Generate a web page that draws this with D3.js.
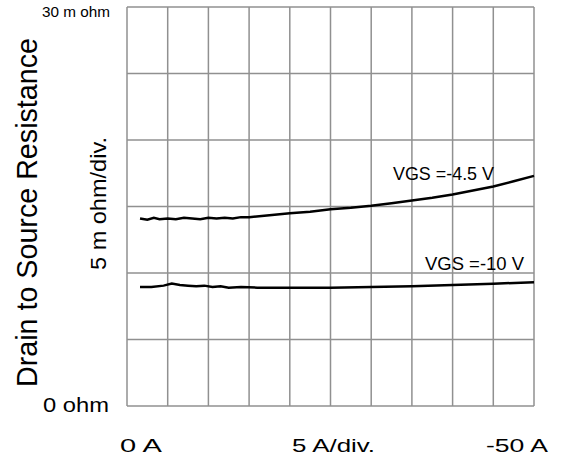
<!DOCTYPE html>
<html>
<head>
<meta charset="utf-8">
<script src="https://cdn.jsdelivr.net/npm/d3@7"></script>
<style>
  body { margin: 0; background: #fff; }
  text { font-family: "Liberation Sans", Arial, sans-serif; fill: #000; }
</style>
</head>
<body>
<div id="chart"></div>
<script>
// drain current magnitude (A) and resistance (m ohm)
var currentA45 = [1.6, 2.5, 3.3, 4.0, 5, 6, 7, 8, 9, 10, 11, 12, 13, 14, 15, 17.5, 20, 22.5, 25, 27.5, 30, 32.5, 35, 37.5, 40, 42.5, 45, 47.5, 50];
var rdsA45 = [14.1, 14.0, 14.15, 14.05, 14.1, 14.05, 14.15, 14.1, 14.05, 14.15, 14.1, 14.15, 14.1, 14.2, 14.2, 14.35, 14.5, 14.6, 14.8, 14.9, 15.05, 15.25, 15.45, 15.65, 15.9, 16.2, 16.5, 16.9, 17.3];
var current10 = [1.6, 3, 4.5, 5.5, 6.5, 7.5, 8.5, 9.5, 10.5, 11.5, 12.5, 14, 16, 18, 20, 25, 30, 35, 40, 45, 50];
var rds10 = [8.95, 8.95, 9.05, 9.2, 9.1, 9.05, 9.0, 9.05, 8.95, 9.0, 8.9, 8.95, 8.9, 8.9, 8.9, 8.9, 8.95, 9.0, 9.1, 9.2, 9.3];
var xTicks = d3.range(0, 55, 5);
var yTicks = d3.range(0, 35, 5);

function chart() {
  var w = 564;
  var h = 459;

  var svg = d3.select("#chart")
              .append("svg")
              .attr("width", w)
              .attr("height", h);

  var x = d3.scaleLinear().domain([0, 50]).range([127, 534]);
  var y = d3.scaleLinear().domain([0, 30]).range([406, 7]);

  // grid
  svg.selectAll("line.v")
     .data(xTicks)
     .enter()
     .append("line")
     .attr("x1", function(d) { return x(d); })
     .attr("x2", function(d) { return x(d); })
     .attr("y1", y(0))
     .attr("y2", y(30))
     .attr("stroke", "#909090")
     .attr("stroke-width", 1.5);

  svg.selectAll("line.h")
     .data(yTicks)
     .enter()
     .append("line")
     .attr("y1", function(d) { return y(d); })
     .attr("y2", function(d) { return y(d); })
     .attr("x1", x(0))
     .attr("x2", x(50))
     .attr("stroke", "#909090")
     .attr("stroke-width", 1.5);

  var line = d3.line()
               .x(function(d) { return x(d[0]); })
               .y(function(d) { return y(d[1]); });

  var series = [d3.zip(currentA45, rdsA45), d3.zip(current10, rds10)];
  svg.selectAll("path.curve")
     .data(series)
     .enter()
     .append("path")
     .attr("d", line)
     .attr("fill", "none")
     .attr("stroke", "#000")
     .attr("stroke-width", 2.5);

  // helper: text with a fixed width, the picture is a bit stretched
  function label(tx, ty, size, len, str, rot) {
    var t = svg.append("text")
               .style("font-size", size + "px")
               .attr("textLength", len)
               .attr("lengthAdjust", "spacingAndGlyphs")
               .text(str);
    if (rot) {
      t.attr("transform", "translate(" + tx + "," + ty + ") rotate(-90)");
    } else {
      t.attr("x", tx).attr("y", ty);
    }
    return t;
  }

  // curve labels
  label(393, 180, 18, 101, "VGS =-4.5 V");
  label(425, 270, 18, 99, "VGS =-10 V");

  // axis texts
  label(42, 17, 14.5, 68, "30 m ohm");
  label(43, 412, 19.5, 66, "0  ohm");
  label(120, 452, 18, 42, "0  A");
  label(292, 452, 18, 83, "5  A/div.");
  label(486, 452, 18, 62, "-50  A");

  label(37, 387, 29, 349, "Drain to Source Resistance", true);
  label(106, 270, 22, 133, "5 m ohm/div.", true);
}

window.onload = function() {
  chart();
};
</script>
</body>
</html>
